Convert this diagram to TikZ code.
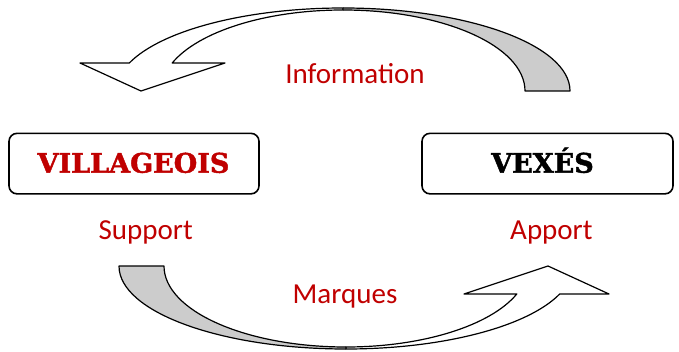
\documentclass[tikz,border=0pt]{standalone}
\usepackage{fontspec}
\setmainfont{Carlito}
\newfontfamily\titlefont{DejaVu Serif}[BoldFeatures={FakeBold=1.6}]
\definecolor{darkred}{RGB}{192,0,0}
\definecolor{ribbongray}{RGB}{204,204,204}
\begin{document}
\begin{tikzpicture}[x=1pt,y=1pt,
  box/.style={draw=black, line width=1.6pt, rounded corners=8pt, fill=white, minimum width=250pt, minimum height=60.5pt, inner sep=0pt},
  title/.style={font=\titlefont\bfseries\fontsize{27}{30}\selectfont, inner sep=0pt, anchor=base},
  label/.style={font=\fontsize{29}{32}\selectfont, text=darkred, inner sep=0pt, anchor=base},
  ribbon/.style={draw=black, line width=1.2pt, line join=round},
]
\useasboundingbox (0,0) rectangle (679,351);

% curved arrow (top), reused rotated for bottom
\newcommand{\curvedarrow}{%
  \fill[ribbongray] (343,343) arc[start angle=90, end angle=0, x radius=227, y radius=83]
     -- (525,260) arc[start angle=0, end angle=90, x radius=182, y radius=81] -- cycle;
  \draw[ribbon] (343,343) arc[start angle=90, end angle=0, x radius=227, y radius=83]
     -- (525,260) arc[start angle=0, end angle=90, x radius=182, y radius=81];
  \draw[ribbon, fill=white] (343,260) ++(160.3:227 and 83)
     arc[start angle=160.3, end angle=90, x radius=227, y radius=83]
     -- (343,341) arc[start angle=90, end angle=159.8, x radius=182, y radius=81]
     -- (225,288) -- (141,260) -- (80,288) -- cycle;
}
\curvedarrow
\begin{scope}[rotate around={180:(344.5,172.5)}]
\curvedarrow
\end{scope}

\node[box] (vil) at (134,187.4) {};
\node[box, minimum width=251pt] (vex) at (547.5,187.4) {};
\node[title, text=darkred] (viltxt) at (133.5,178.3) {VILLAGEOIS};
\node[title, text=black] (vextxt) at (542.5,178.3) {VEXÉS};

\node[label] (info) at (355,267.7) {Information};
\node[label] (marq) at (345,47.7) {Marques};
\node[label] (supp) at (145.7,111.7) {Support};
\node[label] (appo) at (551.4,111.7) {Apport};
\end{tikzpicture}
\end{document}
